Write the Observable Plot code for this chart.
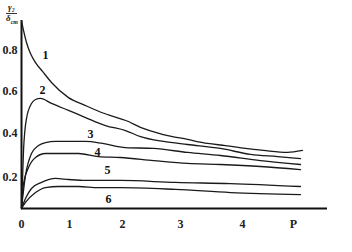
<!DOCTYPE html>
<html>
<head>
<meta charset="utf-8">
<script src="https://cdn.jsdelivr.net/npm/d3@7"></script>
<script src="https://cdn.jsdelivr.net/npm/@observablehq/plot@0.6"></script>
<style>
  body { margin: 0; background: #fff; }
  #wrap { position: relative; width: 352px; height: 252px; }
  .yl { position: absolute; font-family: "Liberation Serif", serif; font-weight: bold; font-style: italic; color: #222; line-height: 1; }
</style>
</head>
<body>
<div id="wrap">
  <div class="yl" style="left:8px;top:3px;font-size:9px;">γ₂</div>
  <div style="position:absolute;left:6px;top:13px;width:11px;height:1px;background:#333;"></div>
  <div class="yl" style="left:6px;top:14px;font-size:9px;">δ<sub style="font-size:6px">ст</sub></div>
</div>
<script>
// Curve data (x = P, y = γ2/δ)
const c1x = [0,0.042,0.104,0.1875,0.292,0.4375,0.625,0.979,1.302,1.604,2.103,2.310,2.707,3.113,3.435,3.726,4.059,4.412,4.882,5.176];
const c1y = [0.946,0.898,0.839,0.785,0.741,0.698,0.644,0.571,0.533,0.5,0.457,0.429,0.395,0.373,0.355,0.345,0.332,0.323,0.314,0.323];
const c2x = [0,0.021,0.042,0.104,0.208,0.292,0.396,0.625,0.979,1.302,1.679,2.052,2.310,2.707,3.113,3.645,4.157,4.686,5.137];
const c2y = [0,0.181,0.323,0.471,0.543,0.562,0.567,0.543,0.510,0.476,0.438,0.414,0.386,0.364,0.35,0.332,0.305,0.295,0.286];
const c3x = [0,0.083,0.208,0.354,0.5,0.708,0.979,1.302,1.623,2.052,2.534,3.113,3.645,4.353,5.137];
const c3y = [0,0.209,0.309,0.345,0.359,0.364,0.364,0.364,0.355,0.336,0.332,0.314,0.3,0.277,0.259];
const c4x = [0,0.042,0.146,0.292,0.5,0.833,1.170,1.547,1.962,2.534,3.113,3.645,4.353,5.137];
const c4y = [0,0.161,0.245,0.291,0.309,0.309,0.309,0.295,0.291,0.277,0.264,0.259,0.25,0.236];
const c5x = [0,0.083,0.208,0.417,0.708,0.979,1.302,1.547,1.962,2.914,3.806,5.137];
const c5y = [0,0.0645,0.129,0.168,0.194,0.187,0.181,0.181,0.181,0.168,0.161,0.142];
const c6x = [0,0.083,0.292,0.5,0.771,1.170,1.547,1.962,2.914,3.806,5.137];
const c6y = [0,0.039,0.103,0.135,0.142,0.142,0.135,0.135,0.123,0.103,0.090];

const curveNames = ["1","2","3","4","5","6"];
const labelX = [0.5,0.4375,1.396,1.528,1.717,1.736];
const labelY = [0.776,0.605,0.395,0.314,0.232,0.058];

const xTicks = [0,1,2,3,4,5];
const xTickLabels = ["0","1","2","3","4","P"];
const yTicks = [0.2,0.4,0.6,0.8];
const yTickLabels = ["0.2","0.4","0.6","0.8"];

const series = [[c1x,c1y],[c2x,c2y],[c3x,c3y],[c4x,c4y],[c5x,c5y],[c6x,c6y]];
const rows = series.flatMap(([xs, ys], i) => xs.map((x, j) => ({curve: curveNames[i], x, y: ys[j]})));
const labels = curveNames.map((n, i) => ({n, x: labelX[i], y: labelY[i]}));

const font = "Liberation Serif, Times New Roman, serif";

const chart = Plot.plot({
  width: 352,
  height: 252,
  marginLeft: 21,
  marginRight: 25,
  marginTop: 20,
  marginBottom: 44,
  style: {fontFamily: font, background: "transparent", color: "#222"},
  x: {type: "linear", domain: [0,1,2,3,4,5,5.667], range: [21,69,122,180,242,293,327]},
  y: {type: "linear", domain: [0,0.2,0.4,0.6,0.8,0.956], range: [208,177,133,91,50,18]},
  marks: [
    Plot.axisX({ticks: xTicks, tickFormat: d => xTickLabels[xTicks.indexOf(d)], tickSize: 0, tickPadding: 11, fontSize: 12, fontWeight: "bold", label: null}),
    Plot.axisY({ticks: yTicks, tickFormat: d => yTickLabels[yTicks.indexOf(d)], tickSize: 0, tickPadding: 4, fontSize: 12, fontWeight: "bold", label: null}),
    Plot.ruleY([0], {x1: 0, x2: 5.667, stroke: "#111", strokeWidth: 2}),
    Plot.ruleX([0], {y1: 0, y2: 0.946, stroke: "#111", strokeWidth: 2}),
    Plot.line(rows, {x: "x", y: "y", z: "curve", curve: "monotone-x", stroke: "#1a1a1a", strokeWidth: 1.3}),
    Plot.text(labels, {x: "x", y: "y", text: "n", fontSize: 12, fontWeight: "bold", fill: "#111"})
  ]
});
document.getElementById("wrap").prepend(chart);
chart.style.position = "absolute";
chart.style.left = "0";
chart.style.top = "0";
</script>
</body>
</html>
